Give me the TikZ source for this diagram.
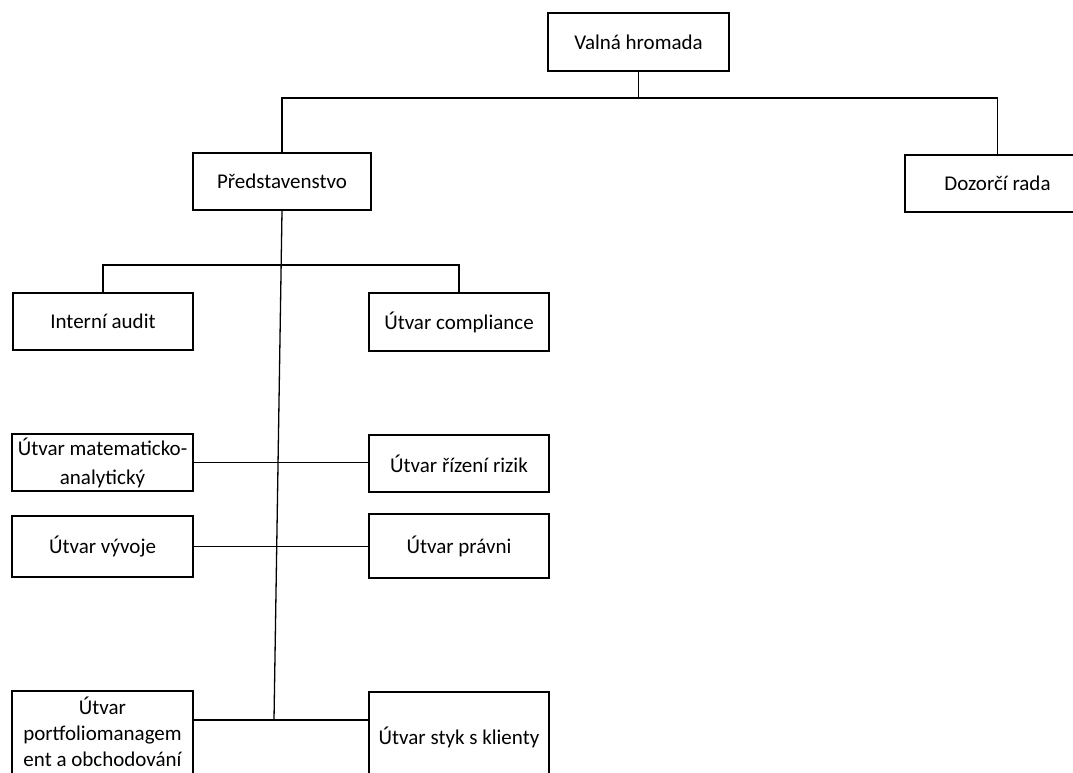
\documentclass[tikz,border=0pt]{standalone}
\usepackage{fontspec}
\setmainfont{Carlito}
\begin{document}
\begin{tikzpicture}[x=1pt,y=-1pt,
  orgbox/.style={draw=black, line width=1.8pt, fill=white, inner sep=0pt,
    align=center, font=\fontsize{21}{29}\selectfont},
  link/.style={draw=black, line width=1.3pt}]
\useasboundingbox (0,0) rectangle (1073,772);
\clip (0,0) rectangle (1073,772);
\fill[white] (0,0) rectangle (1073,772);

% boxes
\node[orgbox, minimum width=181pt, minimum height=58pt] (vh) at (638.5,42) {Valná hromada};
\node[orgbox, minimum width=178pt, minimum height=57pt] (pr) at (282,181.5) {Představenstvo};
\node[orgbox, minimum width=185pt, minimum height=57pt] (dr) at (997.5,183.5) {Dozorčí rada};

\node[orgbox, minimum width=180pt, minimum height=57pt] (ia) at (103,321.5) {Interní audit};
\node[orgbox, minimum width=180pt, minimum height=58pt] (uc) at (459,322) {Útvar compliance};

\node[orgbox, minimum width=181pt, minimum height=57pt] (um) at (102.5,462.5) {Útvar matematicko-\\analytický};
\node[orgbox, minimum width=180pt, minimum height=57pt] (ur) at (459,463.5) {Útvar řízení rizik};

\node[orgbox, minimum width=181pt, minimum height=61pt] (uv) at (102.5,546.5) {Útvar vývoje};
\node[orgbox, minimum width=180pt, minimum height=64pt] (up) at (459,546) {Útvar právni};

\node[orgbox, font=\fontsize{21}{26}\selectfont, minimum width=181pt, minimum height=90pt] (pm) at (102.5,736) {Útvar\\portfoliomanagem\\ent a obchodování\rule[-9pt]{0pt}{0pt}};
\node[orgbox, minimum width=180pt, minimum height=90pt] (sk) at (459,737) {Útvar styk s klienty};

% helper coordinates
\coordinate (bus1) at (283,98);
\coordinate (bus2) at (0,265);
\coordinate (bus3) at (0,720);
\coordinate (se) at (274,720);

% connectors
\draw[link] (vh.south) -- (vh.south |- bus1);
\draw[link] (pr.north) -- (pr.north |- bus1) -| (dr.north);
\draw[link] (pr.south) -- (se);
\draw[link] (ia.north) -- (ia.north |- bus2) -| (uc.north);
\draw[link] (um.east) -- (um.east -| ur.west);
\draw[link] (uv.east) -- (uv.east -| up.west);
\draw[link] (pm.east |- bus3) -- (sk.west |- bus3);
\end{tikzpicture}
\end{document}
